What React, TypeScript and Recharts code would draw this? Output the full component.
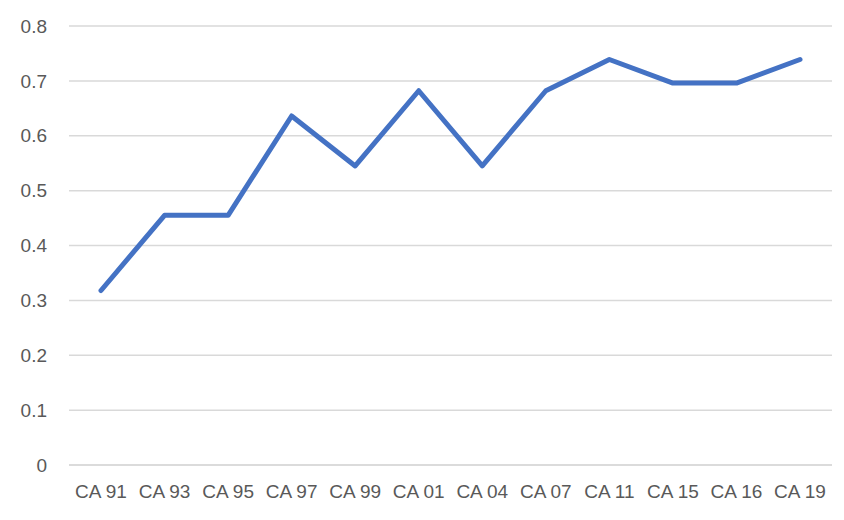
import React from "react";
import { LineChart, Line, XAxis, YAxis, CartesianGrid } from "recharts";

const categories = ["CA 91", "CA 93", "CA 95", "CA 97", "CA 99", "CA 01", "CA 04", "CA 07", "CA 11", "CA 15", "CA 16", "CA 19"];
const values = [0.318, 0.455, 0.455, 0.636, 0.545, 0.682, 0.545, 0.682, 0.739, 0.696, 0.696, 0.739];
const yTicks = [0, 0.1, 0.2, 0.3, 0.4, 0.5, 0.6, 0.7, 0.8];

const data = categories.map((c, i) => ({ name: c, value: values[i] }));

const tickStyle = { fill: "#595959", fontSize: 19, fontFamily: "'Liberation Sans', Arial, sans-serif" };

export default function App() {
  return (
    <div style={{ position: "absolute", left: 0, top: 0, width: 844, height: 520, background: "#fff" }}>
      <LineChart width={844} height={520} data={data} margin={{ top: 26, right: 12, bottom: 0, left: 0 }}>
        <CartesianGrid vertical={false} stroke="#d9d9d9" strokeWidth={1.5} />
        <XAxis
          dataKey="name"
          axisLine={{ stroke: "#d9d9d9", strokeWidth: 1.5 }}
          tickLine={false}
          tickSize={0}
          tickMargin={20}
          height={55}
          tick={tickStyle}
          interval={0}
          padding={{ left: 32, right: 32 }}
        />
        <YAxis
          domain={[0, 0.8]}
          ticks={yTicks}
          axisLine={false}
          tickLine={false}
          tickSize={0}
          tickMargin={22}
          width={69}
          tick={tickStyle}
          tickFormatter={(v: number) => String(Math.round(v * 10) / 10)}
        />
        <Line
          type="linear"
          dataKey="value"
          stroke="#4472C4"
          strokeWidth={5}
          dot={false}
          strokeLinecap="round"
          strokeLinejoin="round"
          isAnimationActive={false}
        />
      </LineChart>
    </div>
  );
}
